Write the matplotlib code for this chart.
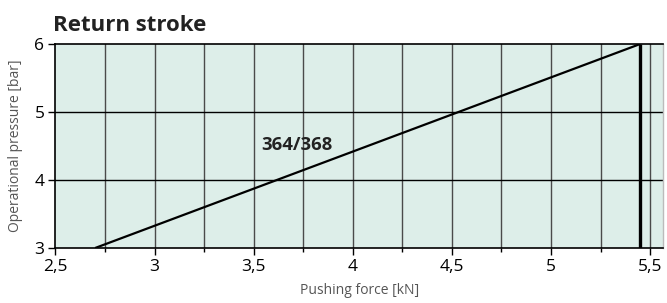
import matplotlib.pyplot as plt
from matplotlib.ticker import FuncFormatter, MultipleLocator

plt.rcParams['font.family'] = ['Open Sans', 'DejaVu Sans']

# curve data
force = [2.7, 5.45]          # kN
pressure = [3, 6]            # bar
limit_force = 5.45
limit_pressure = [3, 6]
curve_label = '364/368'

x_ticks = [2.5, 3, 3.5, 4, 4.5, 5, 5.5]
y_ticks = [3, 4, 5, 6]

fig = plt.figure(figsize=(6.67, 3.03), dpi=100)
ax = fig.add_axes([0.0832, 0.1815, 0.9108, 0.6733])
ax.set_facecolor('#ddeee9')

ax.set_xlim(2.5, 5.565)
ax.set_ylim(3, 6)

# grid
for x in [2.75, 3, 3.25, 3.5, 3.75, 4, 4.25, 4.5, 4.75, 5, 5.25, 5.5]:
    ax.axvline(x, color='#4a4a4a', linewidth=1.0, zorder=1)
for y in [4, 5]:
    ax.axhline(y, color='black', linewidth=1.0, zorder=1)

ax.plot(force, pressure, color='black', linewidth=1.6, zorder=3, solid_capstyle='butt')
ax.plot([limit_force, limit_force], limit_pressure, color='black', linewidth=2.4,
        zorder=3, solid_capstyle='butt')

ax.text(3.72, 4.52, curve_label, fontsize=13.3, fontweight='bold', color='#222222',
        ha='center', va='center', zorder=4)

ax.set_xticks(x_ticks)
ax.set_yticks(y_ticks)
ax.xaxis.set_minor_locator(MultipleLocator(0.25))
comma = FuncFormatter(lambda v, p: ('%g' % v).replace('.', ','))
ax.xaxis.set_major_formatter(comma)
ax.yaxis.set_major_formatter(comma)
ax.tick_params(axis='both', which='major', length=5, width=1, labelsize=12.5,
               colors='black', pad=3)
ax.tick_params(axis='x', which='minor', length=3, width=1)

for side in ['left', 'bottom', 'top']:
    ax.spines[side].set_color('black')
    ax.spines[side].set_linewidth(1.2)
ax.spines['right'].set_color('#bbbbbb')
ax.spines['right'].set_linewidth(1)

ax.set_xlabel('Pushing force [kN]', fontsize=10, color='#555555', labelpad=6)
ax.set_ylabel('Operational pressure [bar]', fontsize=10, color='#555555', labelpad=8)

fig.text(0.0795, 0.915, 'Return stroke', fontsize=16, fontweight='bold',
         color='#222222', ha='left', va='center')

fig.savefig('out.png', dpi=100)
